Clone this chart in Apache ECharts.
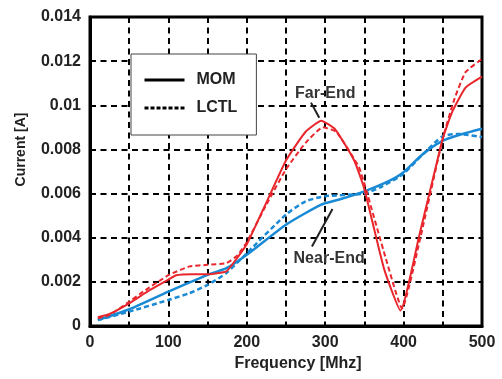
<!DOCTYPE html>
<html>
<head>
<meta charset="utf-8">
<script src="https://cdn.jsdelivr.net/npm/echarts@6/dist/echarts.min.js"></script>
<style>
html,body{margin:0;padding:0;background:#fff;}
#chart{width:502px;height:379px;}
</style>
</head>
<body>
<div id="chart"></div>
<script>
// Frequency [MHz] / current [A] pairs
const momFar = [[10,0.0004],[25,0.00055],[50,0.00103],[75,0.0016],[100,0.0021],[110,0.0023],[130,0.00235],[150,0.00235],[174,0.00248],[188,0.0031],[200,0.0037],[225,0.0056],[250,0.0075],[275,0.0088],[295,0.0093],[313,0.0089],[337,0.0075],[350,0.0062],[375,0.0026],[396,0.0007],[420,0.0041],[450,0.0085],[462,0.0097],[479,0.0108],[500,0.0113]];
const lctlFar = [[10,0.00035],[25,0.0005],[50,0.0011],[68,0.00156],[100,0.0023],[127,0.0027],[150,0.00277],[174,0.00285],[188,0.0032],[200,0.0038],[225,0.0055],[250,0.0071],[275,0.0083],[297,0.009],[314,0.0088],[343,0.0072],[352,0.0062],[377,0.0031],[398,0.0008],[422,0.0041],[450,0.0085],[465,0.0103],[479,0.0115],[500,0.0121]];
const momNear = [[10,0.00027],[50,0.00076],[100,0.00156],[150,0.00232],[174,0.00262],[200,0.00323],[250,0.00459],[295,0.0055],[318,0.00573],[350,0.0061],[381,0.00656],[399,0.00694],[424,0.00777],[449,0.00838],[475,0.0087],[500,0.00894]];
const lctlNear = [[10,0.00027],[50,0.00065],[100,0.00118],[127,0.00149],[150,0.00186],[174,0.0024],[200,0.0033],[250,0.00505],[275,0.00565],[300,0.00588],[350,0.006],[373,0.00633],[400,0.0069],[425,0.0078],[450,0.0086],[470,0.0087],[500,0.00856]];
const legendNames = ['MOM', 'LCTL'];
const xTitle = 'Frequency [Mhz]';
const yTitle = 'Current [A]';
// annotation anchors in data units
const farLabel = {text: 'Far-End', at: [300, 0.01055], leader: [[281.9, 0.01012], [292.4, 0.00944]]};
const nearLabel = {text: 'Near-End', at: [305, 0.00305], leader: [[309.3, 0.0053], [283.1, 0.0036]]};

const RED = '#e8262c', BLUE = '#1a8ad4';
const FONT = 'Liberation Sans, Arial, sans-serif';
const chart = echarts.init(document.getElementById('chart'), null, {renderer: 'canvas'});

function annotation(a) {
  return {
    markLine: {
      silent: true, symbol: ['none', 'none'], animation: false,
      lineStyle: {color: '#222', width: 2, type: 'solid'},
      label: {show: false},
      data: [[{coord: a.leader[0]}, {coord: a.leader[1]}]]
    },
    markPoint: {
      silent: true, animation: false, symbol: 'circle', symbolSize: 1,
      itemStyle: {color: 'rgba(0,0,0,0)'},
      label: {show: true, position: 'inside', formatter: a.text, color: '#333',
        fontFamily: FONT, fontSize: 16, fontWeight: 'bold'},
      data: [{coord: a.at}]
    }
  };
}

const option = {
  animation: false,
  backgroundColor: '#fff',
  grid: {left: 90, right: 20, top: 17, bottom: 53, show: true, borderColor: '#000', borderWidth: 3, backgroundColor: 'transparent'},
  legend: {
    data: legendNames, orient: 'vertical', left: 131, top: 54,
    backgroundColor: '#fff', borderColor: '#444', borderWidth: 1,
    padding: [18, 19, 19, 12], itemGap: 12, itemWidth: 40, itemHeight: 14,
    itemStyle: {color: 'rgba(0,0,0,0)', borderWidth: 0, opacity: 0},
    lineStyle: {width: 3},
    textStyle: {fontFamily: FONT, fontSize: 16, fontWeight: 'bold', color: '#222', padding: [0, 0, 0, 7]},
    selectedMode: false
  },
  xAxis: {
    type: 'value', min: 0, max: 500, interval: 50,
    name: xTitle, nameLocation: 'middle', nameGap: 30,
    nameTextStyle: {fontFamily: FONT, fontSize: 16, fontWeight: 'bold', color: '#222', padding: [0, 0, 0, 24]},
    axisLine: {show: true, lineStyle: {color: '#000', width: 3}},
    axisTick: {show: false},
    axisLabel: {margin: 9, fontFamily: FONT, fontSize: 16, fontWeight: 'bold', color: '#222',
      formatter: v => (v % 100 === 0 ? String(v) : '')},
    splitLine: {show: true, lineStyle: {color: '#000', width: 2, type: [6, 4.5]}}
  },
  yAxis: {
    type: 'value', min: 0, max: 0.014, interval: 0.002,
    name: yTitle, nameLocation: 'middle', nameGap: 62, nameRotate: 90,
    nameTextStyle: {fontFamily: FONT, fontSize: 14, fontWeight: 'bold', color: '#222', padding: [0, 0, 0, 44]},
    axisLine: {show: true, lineStyle: {color: '#000', width: 3}},
    axisTick: {show: false},
    axisLabel: {margin: 9, fontFamily: FONT, fontSize: 16, fontWeight: 'bold', color: '#222',
      formatter: v => String(parseFloat(v.toFixed(3)))},
    splitLine: {show: true, lineStyle: {color: '#000', width: 2, type: [6, 4.5]}}
  },
  series: [
    Object.assign({name: 'MOM near', type: 'line', data: momNear, symbol: 'none', smooth: 0.2,
      lineStyle: {color: BLUE, width: 2.5}, itemStyle: {color: BLUE}, z: 3}, annotation(nearLabel)),
    {name: 'LCTL near', type: 'line', data: lctlNear, symbol: 'none', smooth: 0.2,
      lineStyle: {color: BLUE, width: 2.5, type: [5, 3]}, itemStyle: {color: BLUE}, z: 3},
    Object.assign({name: 'MOM far', type: 'line', data: momFar, symbol: 'none', smooth: 0.15,
      lineStyle: {color: RED, width: 2}, itemStyle: {color: RED}, z: 4}, annotation(farLabel)),
    {name: 'LCTL far', type: 'line', data: lctlFar, symbol: 'none', smooth: 0.15,
      lineStyle: {color: RED, width: 2, type: [5, 3]}, itemStyle: {color: RED}, z: 4},
    {name: 'MOM', type: 'line', data: [], symbol: 'none', lineStyle: {color: '#000', width: 3}, itemStyle: {color: '#000'}},
    {name: 'LCTL', type: 'line', data: [], symbol: 'none', lineStyle: {color: '#000', width: 3, type: [4, 2]}, itemStyle: {color: '#000'}}
  ]
};
chart.setOption(option);
</script>
</body>
</html>
